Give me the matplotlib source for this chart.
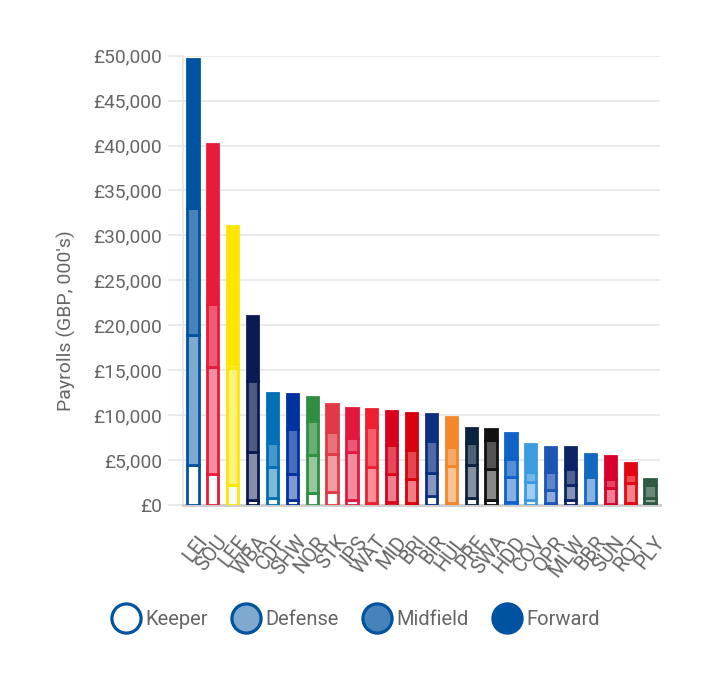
import numpy as np
import matplotlib
matplotlib.use("Agg")
import matplotlib.pyplot as plt
import matplotlib.colors as mcolors
from matplotlib.lines import Line2D
from matplotlib.transforms import ScaledTranslation

plt.rcParams['font.family'] = ['Roboto', 'DejaVu Sans']

# Teams, sorted by total payroll (GBP, 000's)
teams = ['LEI', 'SOU', 'LEE', 'WBA', 'CDF', 'SHW', 'NOR', 'STK', 'IPS', 'WAT', 'MID', 'BRI',
         'BIR', 'HUL', 'PRE', 'SWA', 'HDD', 'COV', 'QPR', 'MLW', 'BBR', 'SUN', 'ROT', 'PLY']
team_colors = ['#0053A0', '#E61C3D', '#FFE600', '#0A1A52', '#0070B5', '#0033A0', '#2F8F3F', '#E03A46',
               '#E2183F', '#EE2030', '#D9021F', '#D9000D', '#0D2F80', '#F5862A', '#0C2340', '#111111',
               '#0E63C8', '#3D9BE0', '#1D55B5', '#0A2466', '#1368C0', '#D8002A', '#E30613', '#2D5A43']

keeper   = [4450, 3500, 2200, 500, 750, 500, 1350, 1400, 550, 200, 350, 250,
            1000, 200, 750, 500, 350, 500, 250, 550, 200, 100, 200, 200]
defense  = [14450, 11900, 13000, 5400, 3450, 2900, 4200, 4250, 5350, 4050, 3100, 2650,
            2600, 4150, 3700, 3450, 2800, 2100, 1400, 1650, 2950, 1750, 2200, 550]
midfield = [14200, 7000, 500, 7900, 2700, 5000, 3850, 2500, 1600, 4450, 3250, 3200,
            3550, 2150, 2500, 3300, 1950, 1100, 2000, 1750, 350, 1000, 1050, 1450]
forward  = [16500, 17800, 15300, 7200, 5600, 3900, 2650, 3050, 3300, 2000, 3800, 4100,
            2950, 3250, 1600, 1150, 2950, 3100, 2850, 2450, 2150, 2550, 1250, 700]

positions = ['Keeper', 'Defense', 'Midfield', 'Forward']
series = [keeper, defense, midfield, forward]
strength = [0.0, 0.5, 0.72, 1.0]   # how much of the team colour goes into the fill


def tint(color, amount):
    rgb = np.array(mcolors.to_rgb(color))
    return tuple(1 - amount * (1 - rgb))


fig = plt.figure(figsize=(7.19, 6.79), dpi=100)
ax = fig.add_axes([0.2545, 0.2563, 0.6634, 0.6617])

x = np.arange(len(teams))
bottom = np.zeros(len(teams))
for vals, s in zip(series, strength):
    faces = [tint(c, s) for c in team_colors]
    ax.bar(x, vals, width=0.565, bottom=bottom, color=faces, edgecolor=team_colors,
           linewidth=2.0, zorder=3)
    bottom += np.array(vals)

ax.set_xlim(-0.5, len(teams) - 0.5)
ax.set_ylim(0, 50000)
ax.set_yticks(np.arange(0, 50001, 5000))
ax.yaxis.set_major_formatter(plt.FuncFormatter(lambda v, p: '£{:,.0f}'.format(v)))
ax.yaxis.grid(True, color='#e6e6e6', linewidth=1.2, zorder=0)
ax.set_axisbelow(True)

for s in ['top', 'right']:
    ax.spines[s].set_visible(False)
ax.spines['left'].set_color('#e6e6e6')
ax.spines['left'].set_linewidth(1.2)
ax.spines['bottom'].set_color('#cccccc')
ax.spines['bottom'].set_linewidth(2.0)

ax.tick_params(axis='y', length=11, width=1.2, color='#e6e6e6', labelcolor='#666666',
               labelsize=13.8, pad=4)
ax.tick_params(axis='x', length=0, labelcolor='#666666', labelsize=14.5, pad=24)
ax.set_xticks(x)
ax.set_xticklabels(teams, rotation=52, ha='right', va='center', rotation_mode='anchor')
off = ScaledTranslation(8 / 72, 0, fig.dpi_scale_trans)
for lab in ax.get_xticklabels():
    lab.set_transform(lab.get_transform() + off)

ax.set_ylabel("Payrolls (GBP, 000's)", color='#666666', fontsize=14)
ax.yaxis.set_label_coords(-0.225, 0.41)

legend_color = team_colors[0]
handles = [Line2D([], [], linestyle='none', marker='o', markersize=21,
                  markerfacecolor=tint(legend_color, s), markeredgecolor=legend_color,
                  markeredgewidth=2.3) for s in strength]
fig.legend(handles, positions, loc='center', bbox_to_anchor=(0.495, 0.087), ncol=4,
           frameon=False, fontsize=14.5, labelcolor='#666666', handletextpad=0.25,
           columnspacing=1.2, handlelength=1.4)

fig.savefig('out.png', dpi=100)
